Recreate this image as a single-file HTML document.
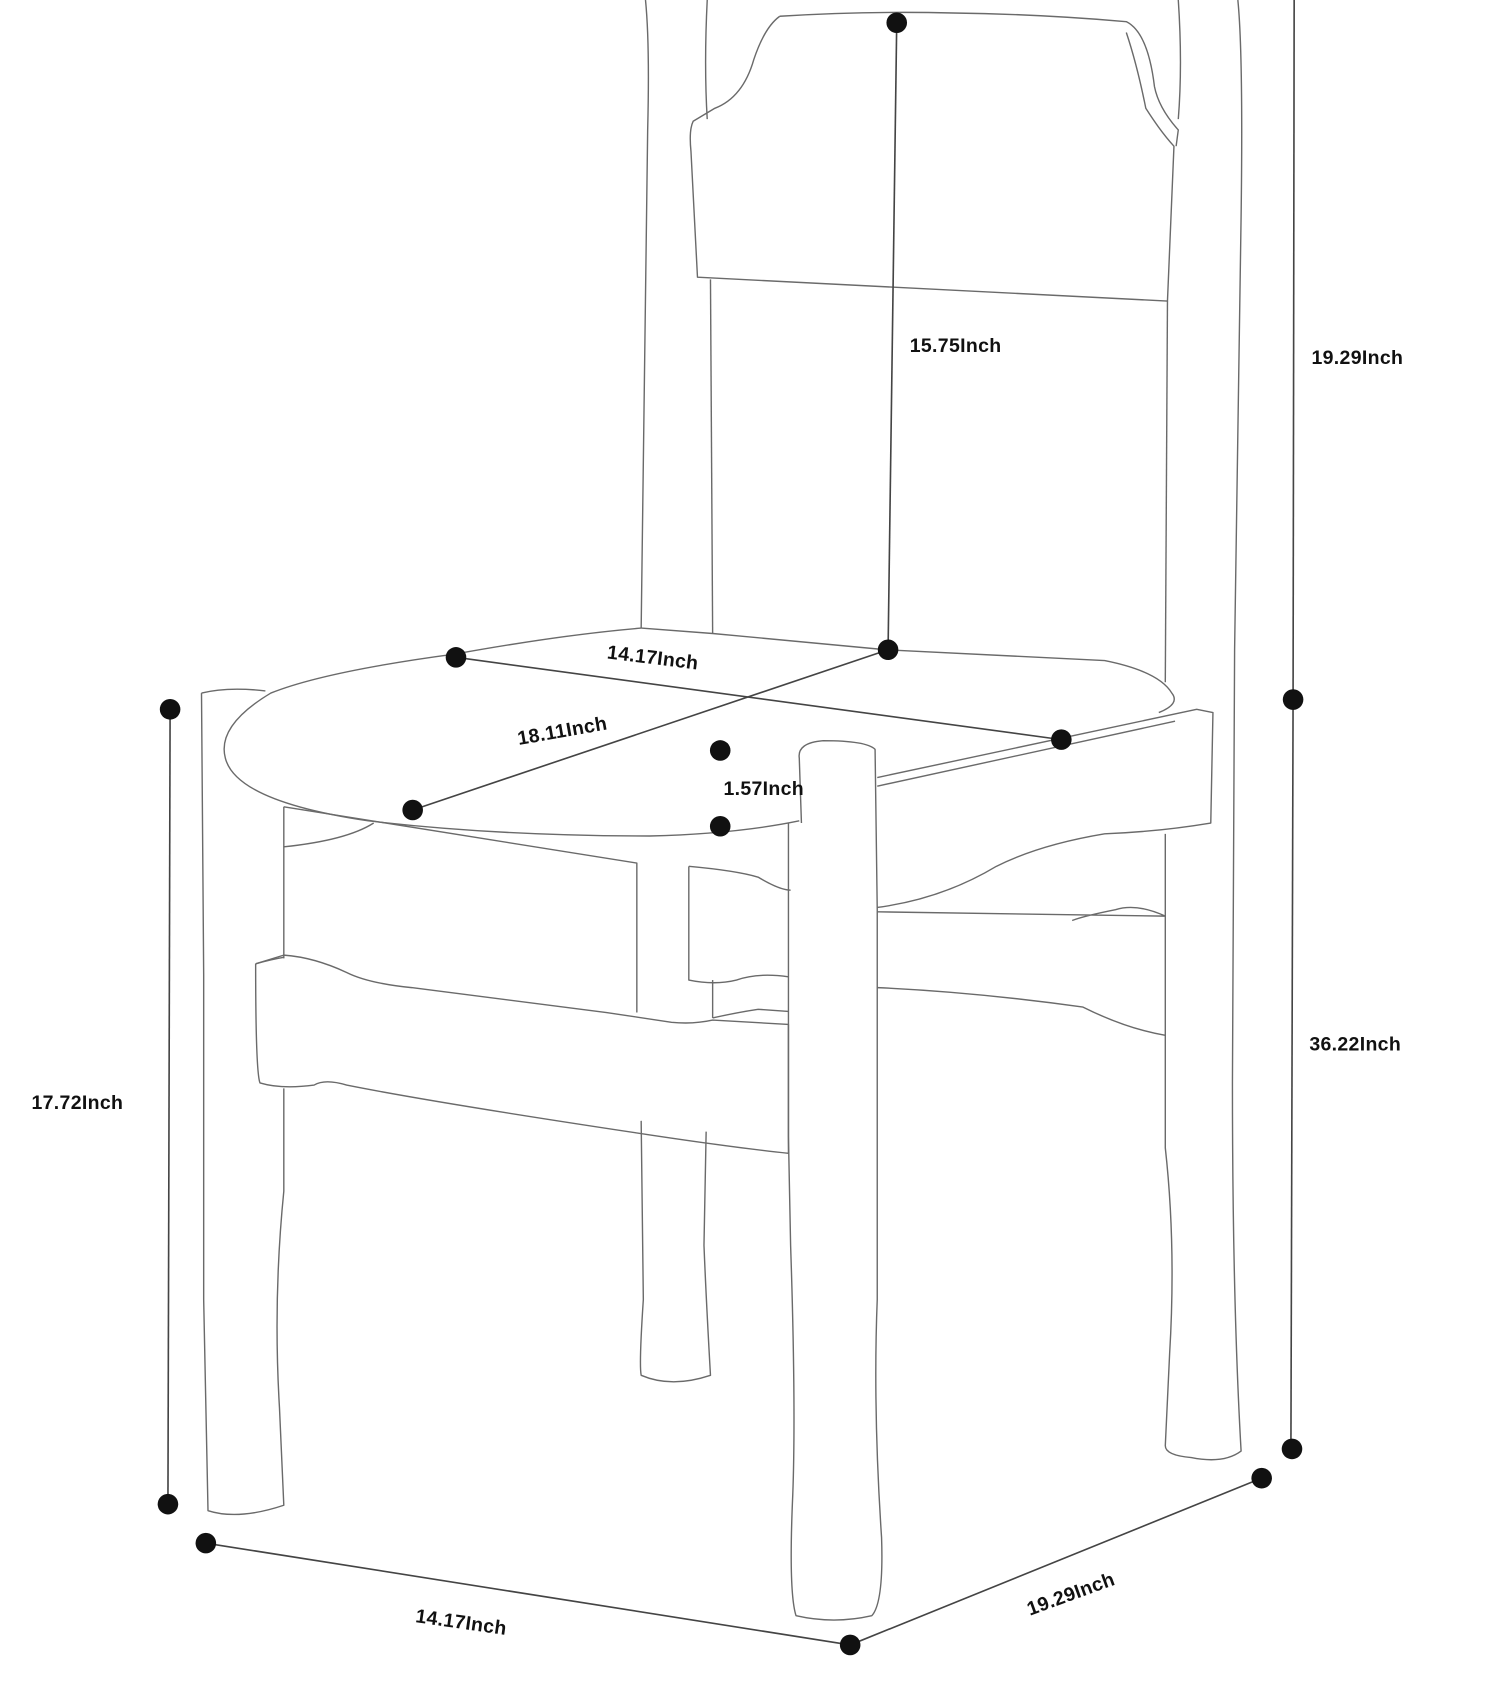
<!DOCTYPE html>
<html><head><meta charset="utf-8"><style>
html,body{margin:0;padding:0;background:#fff;}
svg{display:block;}
text{font-family:"Liberation Sans",sans-serif;font-weight:bold;font-size:18px;fill:#111;letter-spacing:0.3px;}
</style></head><body>
<svg width="1500" height="1698" viewBox="0 0 1385 1568" xmlns="http://www.w3.org/2000/svg">
<g fill="none" stroke="#6a6a6a" stroke-width="1.3" stroke-linejoin="round">
<path d="M596 0 Q600 40 598 120 L592 580"/>
<path d="M653 0 Q650 60 653 110"/>
<path d="M1088 0 Q1092 60 1088 110"/>
<path d="M1143 0 Q1148 50 1146 200 L1140 600 L1138 1000 Q1138 1200 1146 1340 Q1130 1352 1100 1346 Q1076 1344 1076 1335 L1080 1250 Q1086 1150 1076 1060 L1076 770"/>
<path d="M720 15 Q800 10 880 12 Q960 13 1040 20 Q1060 30 1066 80 Q1070 100 1088 120 L1086 135"/>
<path d="M720 15 Q706 25 696 55 Q686 90 660 100 L640 112 Q636 120 638 140 L644 256 L1078 278 L1084 135 Q1072 122 1058 100 Q1050 60 1040 30"/>
<path d="M656 258 L658 585"/>
<path d="M1078 278 L1076 630"/>
<path d="M592 580 L658 585 L818 600 L1020 610 Q1070 620 1082 640 Q1090 650 1070 658"/>
<path d="M592 580 Q520 586 420 604 Q300 620 250 640 Q200 670 208 700 Q218 740 340 758 Q460 772 600 772 Q680 770 738 758"/>
<path d="M186 640 Q210 634 245 638"/>
<path d="M186 640 L188 900 L188 1200 L192 1395 Q220 1404 262 1390 L258 1300 Q252 1200 262 1100 L262 1005"/>
<path d="M262 745 L262 885"/>
<path d="M262 745 L588 797 L588 935"/>
<path d="M262 782 Q320 776 345 760"/>
<path d="M740 760 L738 700 Q736 686 760 684 Q800 684 808 692 L810 840 L810 1200 Q806 1300 814 1420 Q816 1480 805 1492 Q770 1500 735 1492 Q728 1470 732 1380 Q735 1300 730 1150 L728 1050 L728 760"/>
<path d="M810 718 L1105 655 L1120 658 L1118 760 Q1070 768 1020 770 Q960 780 920 800 Q870 830 810 838"/>
<path d="M810 842 L1076 846 Q1050 834 1030 840 Q1000 846 990 850"/>
<path d="M810 912 Q900 916 1000 930 Q1040 950 1076 956"/>
<path d="M810 726 L1085 666"/>
<path d="M636 800 L636 905 Q660 910 680 905 Q700 898 728 902"/>
<path d="M636 800 Q680 804 700 810 Q720 822 730 822"/>
<path d="M658 940 Q680 935 700 932 L728 934"/>
<path d="M658 905 L658 940"/>
<path d="M236 890 L262 882 Q290 884 320 898 Q340 908 380 912 L560 935 L620 944 Q640 946 658 942 L728 946 L728 1065 Q680 1060 600 1048 Q400 1018 320 1002 Q300 996 290 1002 Q260 1006 240 1000 Q236 990 236 890"/>
<path d="M236 890 Q250 886 262 884"/>
<path d="M592 1035 L594 1200 Q590 1260 592 1270 Q620 1282 656 1270 Q652 1200 650 1150 L652 1045"/>
</g>
<g stroke="#444" stroke-width="1.5" fill="none">
<line x1="828" y1="20" x2="820" y2="600"/>
<line x1="421" y1="607" x2="980" y2="683"/>
<line x1="381" y1="748" x2="820" y2="600"/>
<line x1="157" y1="655" x2="155" y2="1390"/>
<line x1="1195" y1="0" x2="1194" y2="646"/>
<line x1="1194" y1="646" x2="1192" y2="1338"/>
<line x1="190" y1="1425" x2="785" y2="1519"/>
<line x1="785" y1="1519" x2="1165" y2="1365"/>
</g>
<g fill="#111">
<circle cx="828" cy="21" r="9.5"/>
<circle cx="820" cy="600" r="9.5"/>
<circle cx="421" cy="607" r="9.5"/>
<circle cx="980" cy="683" r="9.5"/>
<circle cx="381" cy="748" r="9.5"/>
<circle cx="665" cy="693" r="9.5"/>
<circle cx="665" cy="763" r="9.5"/>
<circle cx="157" cy="655" r="9.5"/>
<circle cx="155" cy="1389" r="9.5"/>
<circle cx="1194" cy="646" r="9.5"/>
<circle cx="1193" cy="1338" r="9.5"/>
<circle cx="1165" cy="1365" r="9.5"/>
<circle cx="190" cy="1425" r="9.5"/>
<circle cx="785" cy="1519" r="9.5"/>
</g>
<text x="840" y="325">15.75Inch</text>
<text x="1211" y="336">19.29Inch</text>
<text x="1209" y="970">36.22Inch</text>
<text x="29" y="1024">17.72Inch</text>
<text x="668" y="734">1.57Inch</text>
<text x="560" y="608" transform="rotate(7 560 608)">14.17Inch</text>
<text x="479" y="688" transform="rotate(-10 479 688)">18.11Inch</text>
<text x="383" y="1498" transform="rotate(8 383 1498)">14.17Inch</text>
<text x="951" y="1492" transform="rotate(-20 951 1492)">19.29Inch</text>
</svg>
</body></html>
